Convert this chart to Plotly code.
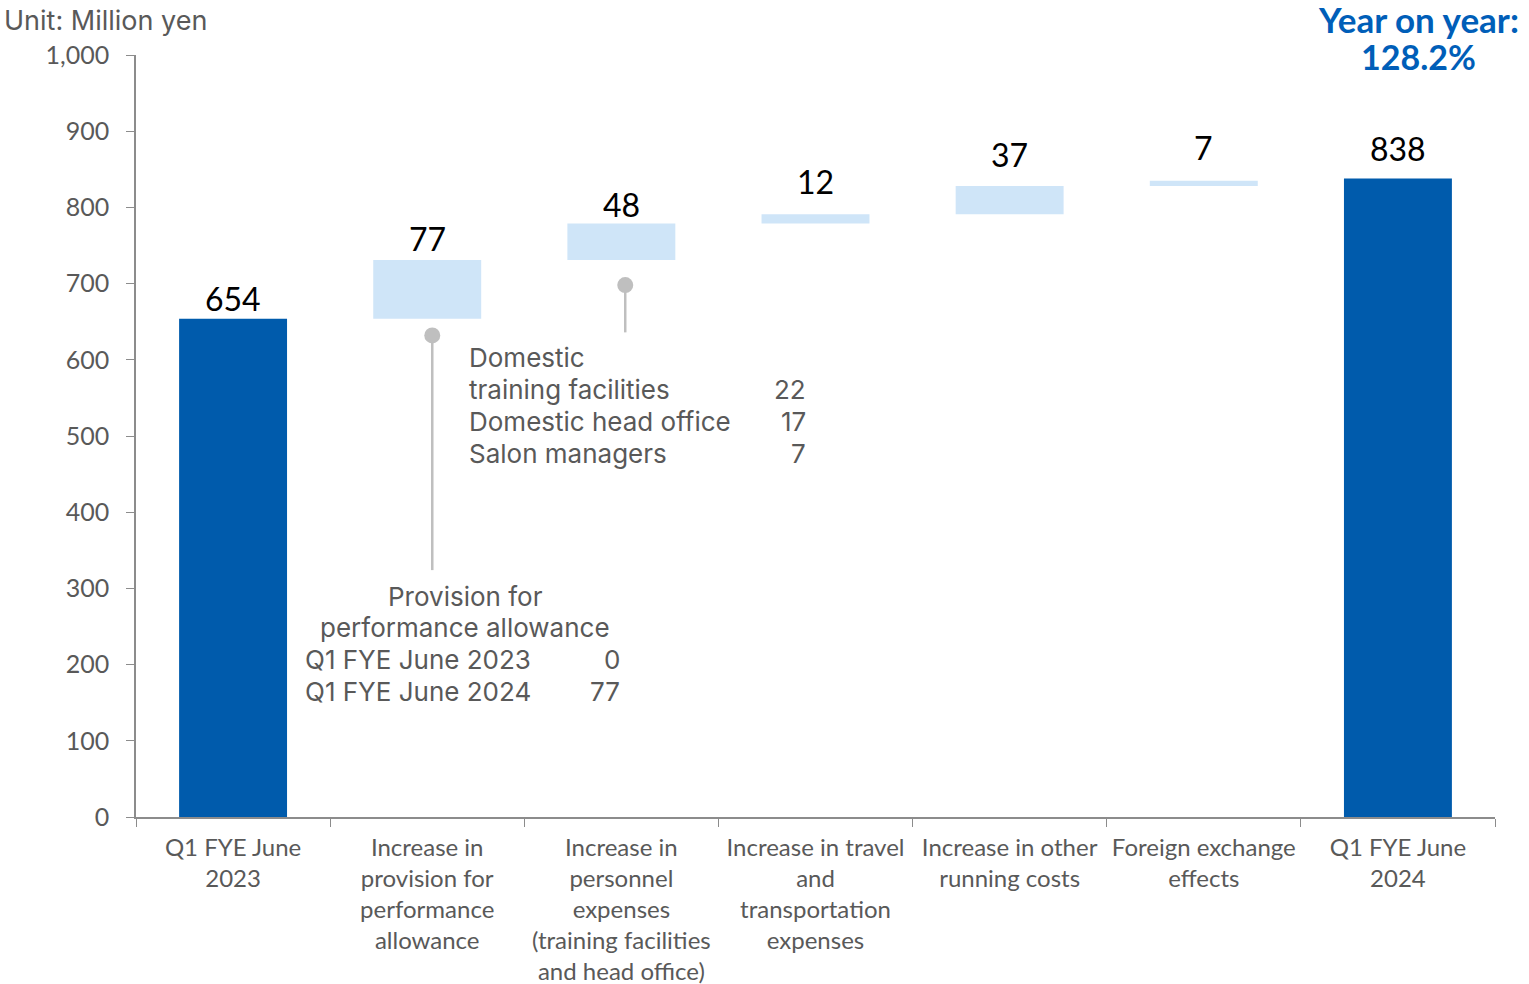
import plotly.graph_objects as go

# Waterfall data (million yen)
categories = [
    "Q1 FYE June<br>2023",
    "Increase in<br>provision for<br>performance<br>allowance",
    "Increase in<br>personnel<br>expenses<br>(training facilities<br>and head office)",
    "Increase in travel<br>and<br>transportation<br>expenses",
    "Increase in other<br>running costs",
    "Foreign exchange<br>effects",
    "Q1 FYE June<br>2024",
]
values = [654, 77, 48, 12, 37, 7, 838]
measures = ["absolute", "relative", "relative", "relative", "relative", "relative", "absolute"]

y_ticks = [0, 100, 200, 300, 400, 500, 600, 700, 800, 900, 1000]
y_tick_labels = ["0", "100", "200", "300", "400", "500", "600", "700", "800", "900", "1,000"]

# Breakdown callouts
personnel_items = ["Domestic", "training facilities", "Domestic head office", "Salon managers"]
personnel_values = ["", "22", "17", "7"]
provision_rows = ["Q1 FYE June 2023", "Q1 FYE June 2024"]
provision_values = ["0", "77"]

DARK = "#005BAC"
LIGHT = "#CFE5F8"
GREY_TXT = "#595959"
FONT = "Lato"
NOTE_FONT = "Inter"

fig = go.Figure(
    go.Waterfall(
        x=categories,
        y=values,
        measure=measures,
        width=0.556,
        increasing=dict(marker=dict(color=LIGHT)),
        totals=dict(marker=dict(color=DARK)),
        connector=dict(visible=False),
        hoverinfo="skip",
    )
)

# top of each bar, used to place the value labels
tops = []
running = 0
for v, m in zip(values, measures):
    running = v if m == "absolute" else running + v
    tops.append(running)
label_gap = [20, 21, 19, 33, 32, 33, 30]

# plot area geometry in pixels
L, R, T, B = 136, 34, 55, 167
W, H = 1529 - L - R, 984 - T - B


def px(xp):
    return (xp - L) / W


def py(yp):
    return (984 - B - yp) / H


ann = []
for i, (v, top, gap) in enumerate(zip(values, tops, label_gap)):
    ann.append(dict(text=str(v), x=i, y=top, xref="x", yref="y", yshift=gap,
                    xanchor="center", yanchor="middle", showarrow=False,
                    font=dict(size=32, color="#000000", family=FONT)))

notes = []
notes.append(dict(text="Unit: Million yen", x=px(2), y=py(20), xanchor="left", yanchor="middle",
                  font=dict(size=27, color=GREY_TXT, family=NOTE_FONT)))
notes.append(dict(text="<b>Year on year:</b>", x=px(1418), y=py(19), xanchor="center", yanchor="middle",
                  font=dict(size=35, color="#005EB8", family=FONT)))
notes.append(dict(text="<b>128.2%</b>", x=px(1418), y=py(57), xanchor="center", yanchor="middle",
                  font=dict(size=34, color="#005EB8", family=FONT)))

# personnel breakdown
for i, (lab, val) in enumerate(zip(personnel_items, personnel_values)):
    yy = 358 + i * 31.7
    notes.append(dict(text=lab, x=px(467), y=py(yy), xanchor="left", yanchor="middle",
                      font=dict(size=26, color=GREY_TXT, family=NOTE_FONT)))
    if val:
        notes.append(dict(text=val, x=px(808), y=py(yy), xanchor="right", yanchor="middle",
                          font=dict(size=26, color=GREY_TXT, family=NOTE_FONT)))

# provision breakdown
for i, lab in enumerate(["Provision for", "performance allowance"]):
    notes.append(dict(text=lab, x=px(465), y=py(596 + i * 31.7), xanchor="center", yanchor="middle",
                      font=dict(size=26, color=GREY_TXT, family=NOTE_FONT)))
for i, (lab, val) in enumerate(zip(provision_rows, provision_values)):
    yy = 659 + i * 32
    notes.append(dict(text=lab, x=px(303), y=py(yy), xanchor="left", yanchor="middle",
                      font=dict(size=26, color=GREY_TXT, family=NOTE_FONT)))
    notes.append(dict(text=val, x=px(622), y=py(yy), xanchor="right", yanchor="middle",
                      font=dict(size=26, color=GREY_TXT, family=NOTE_FONT)))

for a in notes:
    a.update(xref="paper", yref="paper", showarrow=False)
ann += notes

# leader lines with dots
shapes = []
leaders = [(1.026, 632, 324), (2.02, 698, 636)]
for xc, y0, y1 in leaders:
    shapes.append(dict(type="line", xref="x", yref="y", x0=xc, x1=xc, y0=y0, y1=y1,
                       line=dict(color="#BFBFBF", width=2.5)))
    shapes.append(dict(type="circle", xref="x", yref="y", xsizemode="pixel", ysizemode="pixel",
                       xanchor=xc, yanchor=y0, x0=-8, x1=8, y0=-8, y1=8,
                       fillcolor="#BFBFBF", line=dict(width=0)))

fig.update_layout(
    width=1529,
    height=984,
    margin=dict(l=L, r=R, t=T, b=B),
    paper_bgcolor="white",
    plot_bgcolor="white",
    showlegend=False,
    annotations=ann,
    shapes=shapes,
    font=dict(family=FONT, color=GREY_TXT),
    xaxis=dict(
        automargin=False,
        showgrid=False,
        showline=True,
        linecolor="#8C8C8C",
        linewidth=1.5,
        ticks="outside",
        tickson="boundaries",
        ticklen=8,
        tickcolor="#8C8C8C",
        ticklabelstandoff=8,
        tickfont=dict(size=24, color=GREY_TXT, family=FONT),
        range=[-0.5, 6.5],
    ),
    yaxis=dict(
        automargin=False,
        range=[0, 1000],
        tickvals=y_ticks,
        ticktext=y_tick_labels,
        showgrid=False,
        zeroline=False,
        showline=True,
        linecolor="#8C8C8C",
        linewidth=1.5,
        ticks="outside",
        ticklen=8,
        tickcolor="#8C8C8C",
        ticklabelstandoff=12,
        tickfont=dict(size=25, color=GREY_TXT, family=FONT),
    ),
)

fig.write_html("out.html")
